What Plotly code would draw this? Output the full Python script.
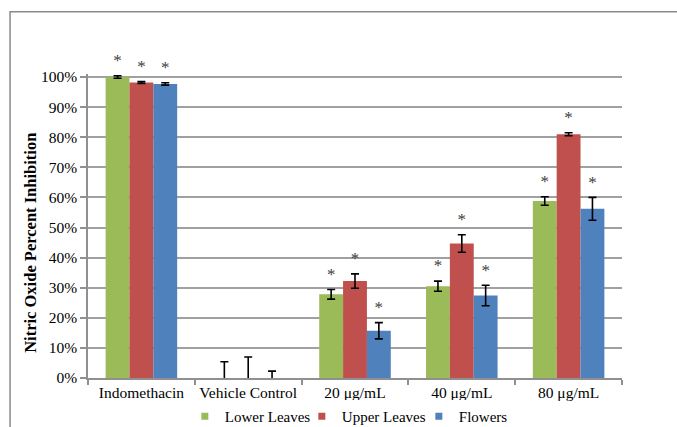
import plotly.graph_objects as go

# Nitric oxide inhibition by extract source and concentration
categories = ["Indomethacin", "Vehicle Control", "20 μg/mL", "40 μg/mL", "80 μg/mL"]
series_names = ["Lower Leaves", "Upper Leaves", "Flowers"]
series_colors = ["#9BBB59", "#C0504D", "#4F81BD"]

lower_leaves = [100.0, 0.0, 27.8, 30.5, 58.8]
upper_leaves = [98.2, 0.0, 32.2, 44.7, 81.0]
flowers = [97.7, 0.0, 15.7, 27.4, 56.2]

lower_err = [0.4, 5.4, 1.6, 1.7, 1.4]
upper_err = [0.3, 7.0, 2.4, 2.9, 0.5]
flowers_err = [0.4, 2.3, 2.7, 3.4, 3.8]

# significance markers (True = starred)
lower_sig = [True, False, True, True, True]
upper_sig = [True, False, True, True, True]
flowers_sig = [True, False, True, True, True]

values = [lower_leaves, upper_leaves, flowers]
errors = [lower_err, upper_err, flowers_err]
sigs = [lower_sig, upper_sig, flowers_sig]

FONT = "Liberation Serif"
STAR = "#404040"

fig = go.Figure()

for name, color, vals, errs, sig in zip(series_names, series_colors, values, errors, sigs):
    fig.add_trace(go.Bar(
        x=categories, y=vals, name=name, offsetgroup=name,
        marker=dict(color=color, line=dict(width=0)),
        error_y=dict(type="data", array=errs, visible=True,
                     color="black", thickness=1.6, width=4),
        showlegend=False,
    ))
    # asterisks sit just above the top of each error bar
    fig.add_trace(go.Scatter(
        x=categories, y=[v + e for v, e in zip(vals, errs)],
        offsetgroup=name, mode="markers+text",
        marker=dict(size=7, color=STAR, opacity=0),
        text=["*" if s else "" for s in sig],
        textposition="top center",
        textfont=dict(family=FONT, size=17, color=STAR),
        cliponaxis=False, showlegend=False, hoverinfo="skip",
    ))

# legend entries with small square swatches
for name, color in zip(series_names, series_colors):
    fig.add_trace(go.Scatter(
        x=[None], y=[None], mode="markers", name=name,
        marker=dict(symbol="square", size=7, color=color),
    ))

fig.update_layout(
    width=677, height=427,
    margin=dict(l=88, r=55, t=74, b=49, autoexpand=False),
    paper_bgcolor="white", plot_bgcolor="white",
    barmode="group", scattermode="group",
    bargap=0.33, bargroupgap=0,
    font=dict(family=FONT, size=15, color="black"),
    legend=dict(orientation="h", x=0.51, xanchor="center", y=-0.072, yanchor="top",
                font=dict(family=FONT, size=15), itemwidth=30, tracegroupgap=0,
                entrywidth=72, entrywidthmode="pixels"),
    shapes=[dict(type="rect", xref="paper", yref="paper",
                 x0=-0.146, x1=1.3, y0=-0.5, y1=1.205,
                 line=dict(color="#8a8a8a", width=1.5), fillcolor="rgba(0,0,0,0)",
                 layer="below")],
    annotations=[dict(text="<b>Nitric Oxide Percent Inhibition</b>",
                      xref="paper", yref="paper", x=-0.109, y=0.444,
                      xanchor="center", yanchor="middle", textangle=-90,
                      showarrow=False, font=dict(family=FONT, size=16.5, color="black"))],
)

fig.update_xaxes(
    type="category", showline=True, linecolor="#909090", linewidth=1.5,
    ticks="outside", tickson="boundaries", ticklen=5, tickcolor="#909090", tickwidth=1.5,
    tickangle=0, tickfont=dict(family=FONT, size=15.5, color="black"), showgrid=False,
)
fig.update_yaxes(
    range=[0, 101], tickvals=[0, 10, 20, 30, 40, 50, 60, 70, 80, 90, 100],
    ticktext=[f"{v}%" for v in range(0, 101, 10)],
    showline=True, linecolor="#909090", linewidth=1.5,
    ticks="outside", ticklen=6, tickcolor="#909090", tickwidth=1.5,
    showgrid=True, gridcolor="#a0a0a0", gridwidth=1.5, zeroline=False,
    tickfont=dict(family=FONT, size=15.5, color="black"),
)

fig.write_html("out.html")
